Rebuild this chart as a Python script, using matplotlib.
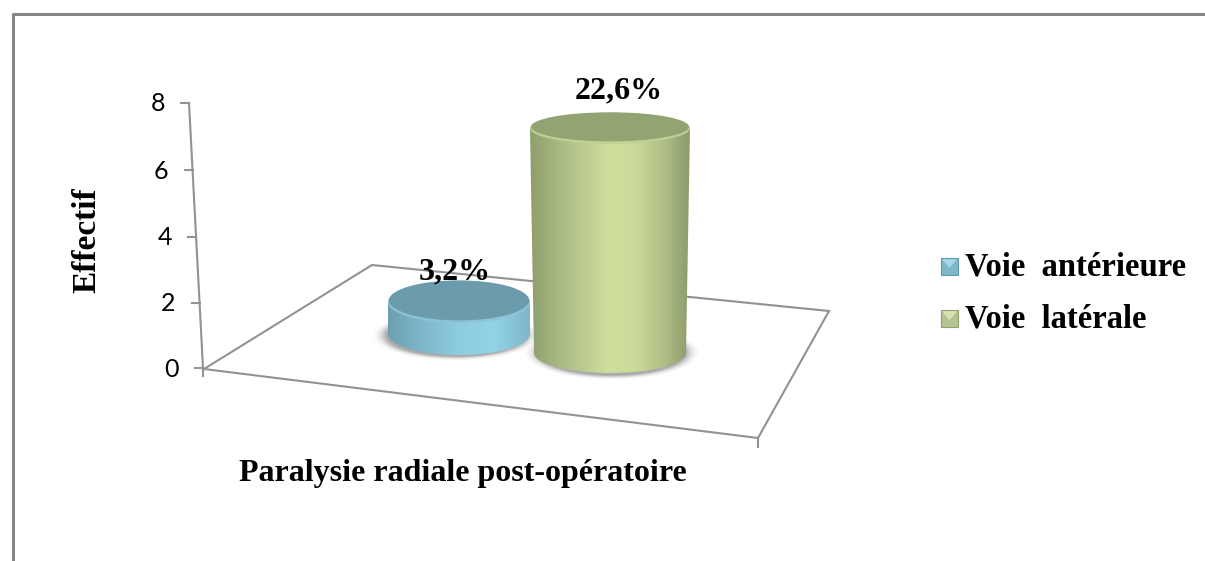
import numpy as np
from matplotlib import pyplot as plt
from matplotlib.colors import LinearSegmentedColormap
from matplotlib.patches import Ellipse, PathPatch, Polygon
from matplotlib.path import Path

series = ["Voie  antérieure", "Voie  latérale"]
values = [1, 7]
percent_labels = ["3,2%", "22,6%"]
y_ticks = [0, 2, 4, 6, 8]
category = "Paralysie radiale post-opératoire"
y_title = "Effectif"

# colours of each cylinder: side shading left to right, then top, rim
side_colors = [["#6d9fb2", "#7fb8cb", "#8dcde1", "#92d3e7", "#7fb6c9"],
               ["#8e9e6c", "#a8b882", "#bccb92", "#cfe09d", "#c9da98", "#b0c088", "#8c9b6a"]]
top_colors = ["#6c9bab", "#93a473"]
rim_colors = ["#8cc3d6", "#bfd095"]
legend_colors = [("#a9d6e6", "#7fb6ca", "#5f98ad"), ("#d6e2b4", "#b3c48e", "#8f9f6e")]

# pixels per unit on the floor plane
unit = 32.1
grey = "#929292"

fig = plt.figure(figsize=(12.05, 5.61), dpi=100)
ax = fig.add_axes([0, 0, 1, 1])


def axis_y(v):
    return 368 - 32.5 * v - 0.08 * v * v


def axis_x(v):
    return 203 - 1.75 * v


# outer frame, only top and left are visible
ax.plot([12.5, 12.5, 1205], [561, 14, 14], color="#868686", lw=2.2, solid_capstyle="butt")

# floor
floor = [(204, 369), (372, 265), (829, 311), (758, 438)]
ax.add_patch(Polygon(floor, closed=True, fill=False, edgecolor=grey, lw=1.5))
ax.plot([758, 758], [438, 447], color=grey, lw=1.5)

# value axis
ax.plot([axis_x(0), axis_x(0)], [axis_y(0), axis_y(0) + 8], color=grey, lw=1.5)
ax.plot([axis_x(0), axis_x(8)], [axis_y(0), axis_y(8)], color=grey, lw=1.5)
for t in y_ticks:
    ax.plot([axis_x(t) - 8, axis_x(t)], [axis_y(t), axis_y(t)], color=grey, lw=1.5)
    ax.text(axis_x(t) - 24, axis_y(t) + 1, str(t), ha="right", va="center",
            fontsize=18, family="Lato", color="black")


def shadow(cx, cy, rx, ry):
    # soft grey ellipse under a cylinder
    xs = np.linspace(cx - rx * 1.25, cx + rx * 1.25, 200)
    ys = np.linspace(cy - ry * 1.5, cy + ry * 1.5, 100)
    xx, yy = np.meshgrid(xs, ys)
    r = np.sqrt(((xx - cx) / rx) ** 2 + ((yy - cy) / ry) ** 2)
    rgba = np.zeros(r.shape + (4,))
    rgba[..., :3] = 0.45
    rgba[..., 3] = 0.6 * np.clip((1.12 - r) / 0.2, 0, 1) ** 2
    ax.imshow(rgba, extent=[xs[0], xs[-1], ys[-1], ys[0]], aspect="auto", zorder=2)


def cylinder(cx, base_y, value, rx_top, rx_base, ry_top, ry_base, idx, z):
    top_y = base_y - value * unit
    k = 0.5523
    verts = [(cx - rx_top, top_y), (cx - rx_base, base_y),
             (cx - rx_base, base_y + k * ry_base), (cx - k * rx_base, base_y + ry_base), (cx, base_y + ry_base),
             (cx + k * rx_base, base_y + ry_base), (cx + rx_base, base_y + k * ry_base), (cx + rx_base, base_y),
             (cx + rx_top, top_y), (cx - rx_top, top_y)]
    codes = [Path.MOVETO, Path.LINETO, Path.CURVE4, Path.CURVE4, Path.CURVE4,
             Path.CURVE4, Path.CURVE4, Path.CURVE4, Path.LINETO, Path.CLOSEPOLY]
    body = PathPatch(Path(verts, codes), facecolor="none", edgecolor="none", zorder=z)
    ax.add_patch(body)
    cmap = LinearSegmentedColormap.from_list("side", side_colors[idx])
    grad = np.linspace(0, 1, 256).reshape(1, -1)
    im = ax.imshow(grad, cmap=cmap, aspect="auto", zorder=z, interpolation="bilinear",
                   extent=[cx - rx_top, cx + rx_top, base_y + ry_base, top_y - ry_top])
    im.set_clip_path(body)
    # rim then top face
    ax.add_patch(Ellipse((cx, top_y), 2 * rx_top, 2 * ry_top, facecolor=rim_colors[idx], edgecolor="none", zorder=z + 0.1))
    ax.add_patch(Ellipse((cx, top_y - 1.5), 2 * rx_top - 2, 2 * ry_top - 2, facecolor=top_colors[idx], edgecolor="none", zorder=z + 0.2))
    return top_y


shadow(456, 335, 76, 23)
shadow(612, 352, 80, 25)
top_blue = cylinder(459, 334, values[0], 71, 71, 21, 21, 0, 3)
top_green = cylinder(610, 353, values[1], 80, 76, 15.5, 20, 1, 4)

serif = "Liberation Serif"
ax.text(455, top_blue - 30, percent_labels[0], ha="center", va="center", fontsize=23,
        family=serif, weight="bold", color="black", zorder=6)
ax.text(619, top_green - 37, percent_labels[1], ha="center", va="center", fontsize=23,
        family=serif, weight="bold", color="black", zorder=6)

# axis titles
ax.text(463, 473, category, ha="center", va="center", fontsize=23,
        family=serif, weight="bold", color="black")
ax.text(87, 240, y_title, ha="center", va="center", rotation=90, fontsize=24,
        family=serif, weight="bold", color="black")

# legend with small bevelled squares
for i, name in enumerate(series):
    x0, y0 = 941, 258 + 52 * i
    s = 17
    c_top, c_mid, c_low = legend_colors[i]
    ax.add_patch(Polygon([(x0, y0), (x0 + s, y0), (x0 + s, y0 + s), (x0, y0 + s)], facecolor=c_mid, edgecolor="none"))
    ax.add_patch(Polygon([(x0, y0), (x0 + s, y0), (x0 + s / 2, y0 + s * 0.6)], facecolor=c_top, edgecolor="none"))
    ax.add_patch(Polygon([(x0, y0), (x0 + s, y0), (x0 + s, y0 + s), (x0, y0 + s)], fill=False, edgecolor=c_low, lw=0.8))
    ax.text(x0 + 24, y0 + s / 2, name, ha="left", va="center", fontsize=23.5,
            family=serif, weight="bold", color="black")

ax.set_xlim(0, 1205)
ax.set_ylim(561, 0)
ax.axis("off")

fig.savefig("out.png", dpi=100, facecolor="white")
